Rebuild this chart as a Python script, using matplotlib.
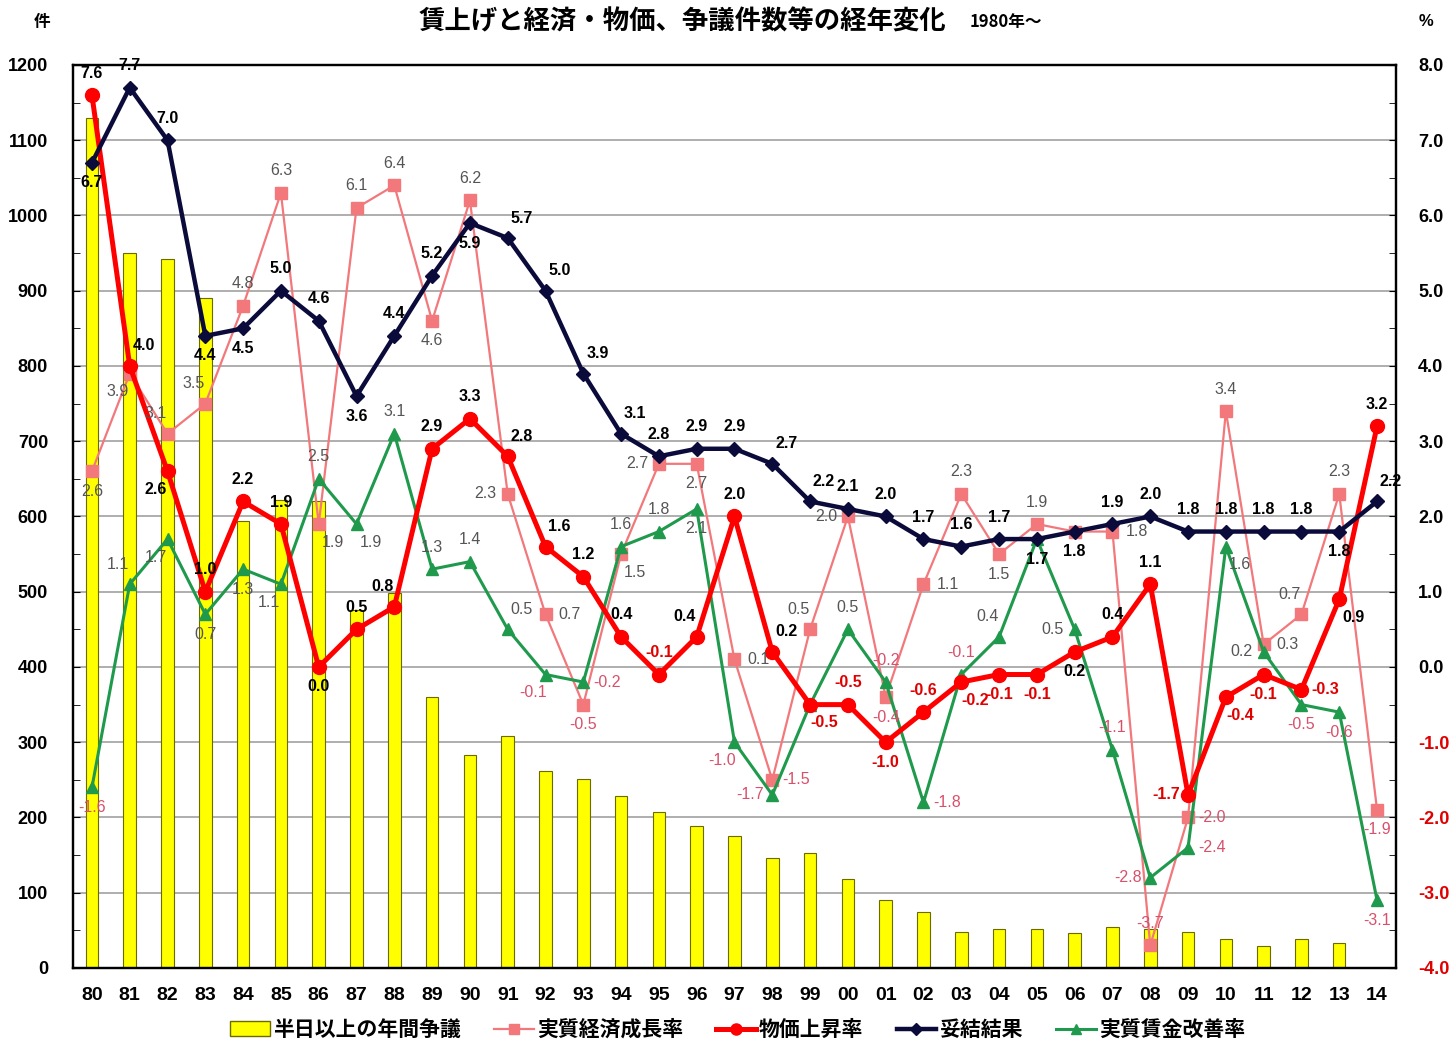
import numpy as np
import matplotlib
matplotlib.use('Agg')
import matplotlib.pyplot as plt
from matplotlib.lines import Line2D
from matplotlib.patches import Patch

# Data
years = ['80', '81', '82', '83', '84', '85', '86', '87', '88', '89',
         '90', '91', '92', '93', '94', '95', '96', '97', '98', '99',
         '00', '01', '02', '03', '04', '05', '06', '07', '08', '09',
         '10', '11', '12', '13', '14']

# 半日以上の年間争議 (件)
disputes = [1130, 950, 942, 890, 594, 622, 620, 476, 498, 360,
            283, 308, 262, 251, 229, 207, 189, 175, 146, 153,
            118, 90, 75, 48, 52, 52, 47, 55, 52, 48,
            38, 29, 38, 33, np.nan]

# 実質経済成長率 (%)
growth = [2.6, 3.9, 3.1, 3.5, 4.8, 6.3, 1.9, 6.1, 6.4, 4.6,
          6.2, 2.3, 0.7, -0.5, 1.5, 2.7, 2.7, 0.1, -1.5, 0.5,
          2.0, -0.4, 1.1, 2.3, 1.5, 1.9, 1.8, 1.8, -3.7, -2.0,
          3.4, 0.3, 0.7, 2.3, -1.9]

# 物価上昇率 (%)
prices = [7.6, 4.0, 2.6, 1.0, 2.2, 1.9, 0.0, 0.5, 0.8, 2.9,
          3.3, 2.8, 1.6, 1.2, 0.4, -0.1, 0.4, 2.0, 0.2, -0.5,
          -0.5, -1.0, -0.6, -0.2, -0.1, -0.1, 0.2, 0.4, 1.1, -1.7,
          -0.4, -0.1, -0.3, 0.9, 3.2]

# 妥結結果 (%)
settlement = [6.7, 7.7, 7.0, 4.4, 4.5, 5.0, 4.6, 3.6, 4.4, 5.2,
              5.9, 5.7, 5.0, 3.9, 3.1, 2.8, 2.9, 2.9, 2.7, 2.2,
              2.1, 2.0, 1.7, 1.6, 1.7, 1.7, 1.8, 1.9, 2.0, 1.8,
              1.8, 1.8, 1.8, 1.8, 2.2]

# 実質賃金改善率 (%)
real_wage = [-1.6, 1.1, 1.7, 0.7, 1.3, 1.1, 2.5, 1.9, 3.1, 1.3,
             1.4, 0.5, -0.1, -0.2, 1.6, 1.8, 2.1, -1.0, -1.7, -0.5,
             0.5, -0.2, -1.8, -0.1, 0.4, 1.7, 0.5, -1.1, -2.8, -2.4,
             1.6, 0.2, -0.5, -0.6, -3.1]

# where each data label sits relative to its point ('-' = not shown)
settlement_pos = 'b a a b b a a b a a b ar ar ar ar a a a ar ar a a a a a b b a a a a a a b ar'
prices_pos = 'a ar bl a a a b a al a a ar ar a a a al a ar br a b a br b b b a a l br b r br a'
growth_pos = 'b bl al al a a br a a b a l r b br l b r r al l b r a b a - r a r a r al a b'
wage_pos = 'b al bl b b bl a br a a a ar bl r a a b bl l - a a r a al - l a l r br l b b b'

OFFSETS = {'a': (0, 22), 'b': (0, -20), 'l': (-22, 0), 'r': (24, 0),
           'ar': (14, 20), 'al': (-12, 20), 'br': (14, -18), 'bl': (-12, -18)}

JP = ['Noto Sans CJK JP', 'DejaVu Sans']
NUM = ['Liberation Sans Narrow', 'Liberation Sans', 'DejaVu Sans']
plt.rcParams['font.family'] = NUM

NAVY = '#0b0b3b'
RED = '#ff0000'
PINK = '#f2787c'
GREEN = '#1f9a4c'
NEG_BOLD = '#e00000'
NEG_THIN = '#d8506a'
POS_THIN = '#555555'


def add_labels(ax, values, where, bold):
    for i, (v, w) in enumerate(zip(values, where.split())):
        if w == '-':
            continue
        if bold:
            color = 'black' if v >= 0 else NEG_BOLD
        else:
            color = POS_THIN if v >= 0 else NEG_THIN
        ax.annotate(f'{v:.1f}', (i, v), xytext=OFFSETS[w], textcoords='offset pixels',
                    ha='center', va='center', fontsize=11.5, color=color,
                    fontweight='bold' if bold else 'normal', zorder=10)


fig = plt.figure(figsize=(14.52, 10.45), dpi=100)
ax = fig.add_axes([0.0503, 0.0737, 0.9111, 0.8641])
ax2 = ax.twinx()

x = np.arange(len(years))

# Bars on the left axis (件)
ax.bar(x, disputes, width=0.33, color='#ffff00', edgecolor='#6b6b00', linewidth=0.8, zorder=2)
ax.set_xlim(-0.5, len(years) - 0.5)
ax.set_ylim(0, 1200)
ax.set_yticks(np.arange(0, 1201, 100))
ax.set_yticks(np.arange(0, 1201, 50), minor=True)
ax.yaxis.grid(True, color='#a8a8a8', linewidth=1.3)
ax.set_axisbelow(True)
ax.set_xticks(x)
ax.set_xticklabels(years, fontsize=14, fontweight='bold')
ax.tick_params(axis='x', length=0, pad=14)
ax.tick_params(axis='y', which='both', direction='in', length=5, labelsize=13, pad=18)
for lbl in ax.get_yticklabels():
    lbl.set_fontweight('bold')

# Lines on the right axis (%)
ax2.plot(x, growth, color=PINK, linewidth=1.6, marker='s', markersize=8, zorder=3)
ax2.plot(x, real_wage, color=GREEN, linewidth=2.2, marker='^', markersize=8, zorder=4)
ax2.plot(x, prices, color=RED, linewidth=3.6, marker='o', markersize=10, zorder=5)
ax2.plot(x, settlement, color=NAVY, linewidth=3.2, marker='D', markersize=7, zorder=6)
ax2.set_ylim(-4, 8)
ax2.set_yticks(np.arange(-4, 8.1, 1))
ax2.set_yticks(np.arange(-4, 8.1, 0.5), minor=True)
ax2.set_yticklabels([f'{v:.1f}' for v in np.arange(-4, 8.1, 1)], fontsize=13, fontweight='bold')
for lbl, v in zip(ax2.get_yticklabels(), np.arange(-4, 8.1, 1)):
    lbl.set_color(NEG_BOLD if v < 0 else 'black')
ax2.tick_params(axis='y', which='both', direction='in', length=5, pad=16)

add_labels(ax2, growth, growth_pos, bold=False)
add_labels(ax2, real_wage, wage_pos, bold=False)
add_labels(ax2, prices, prices_pos, bold=True)
add_labels(ax2, settlement, settlement_pos, bold=True)

for a in (ax, ax2):
    for s in a.spines.values():
        s.set_linewidth(1.6)
        s.set_color('black')

# Titles and unit labels
fig.text(0.288, 0.979, '賃上げと経済・物価、争議件数等の経年変化', family=JP, fontsize=19,
         fontweight='bold', ha='left', va='center')
fig.text(0.668, 0.979, '1980年～', family=JP, fontsize=12, fontweight='bold', ha='left', va='center')
fig.text(0.029, 0.979, '件', family=JP, fontsize=12, fontweight='bold', ha='center', va='center')
fig.text(0.982, 0.979, '%', fontsize=12, fontweight='bold', ha='center', va='center')

handles = [
    Patch(facecolor='#ffff00', edgecolor='#6b6b00', label='半日以上の年間争議'),
    Line2D([0], [0], color=PINK, linewidth=1.6, marker='s', markersize=7, label='実質経済成長率'),
    Line2D([0], [0], color=RED, linewidth=3.6, marker='o', markersize=8, label='物価上昇率'),
    Line2D([0], [0], color=NAVY, linewidth=3.2, marker='D', markersize=6, label='妥結結果'),
    Line2D([0], [0], color=GREEN, linewidth=2.2, marker='^', markersize=7, label='実質賃金改善率'),
]
fig.legend(handles=handles, loc='center', bbox_to_anchor=(0.508, 0.015), ncol=5, frameon=False,
           prop={'family': JP, 'weight': 'bold', 'size': 15}, handlelength=1.9,
           columnspacing=1.6, handletextpad=0.15)

fig.savefig('out.png', dpi=100)
